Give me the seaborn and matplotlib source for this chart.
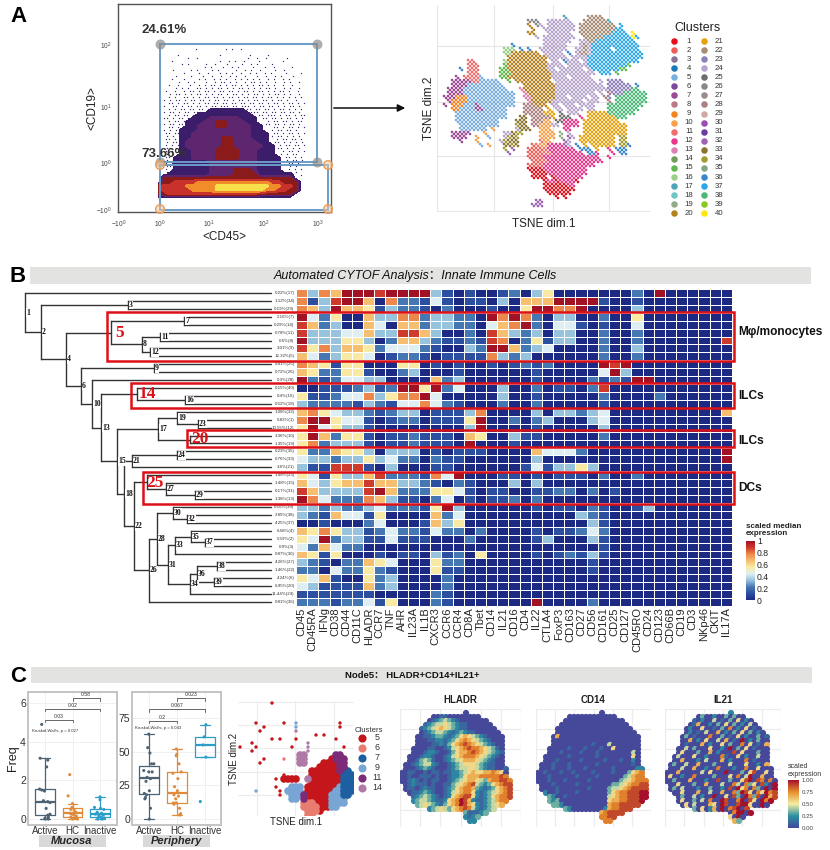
"""
Composite figure: gating plot, tSNE clusters, cluster heatmap with tree,
boxplots and marker-expression maps. Everything is read off the picture.
"""

import matplotlib
matplotlib.use("Agg")
import matplotlib.pyplot as plt
import numpy as np
import pandas as pd
import seaborn as sns
from matplotlib.colors import LinearSegmentedColormap, Normalize
from matplotlib.cm import ScalarMappable
from matplotlib.patches import Rectangle

W, H = 830, 850

# --- panel A: gating plot ---
GATE_X_TICKS = [119, 160, 209, 264, 318]
GATE_Y_TICKS = [210, 163, 107, 45]
GATE_X_LABELS = ["$\\mathregular{-10^{0}}$", "$\\mathregular{10^{0}}$", "$\\mathregular{10^{1}}$",
                 "$\\mathregular{10^{2}}$", "$\\mathregular{10^{3}}$"]
GATE_Y_LABELS = ["$\\mathregular{-10^{0}}$", "$\\mathregular{10^{0}}$", "$\\mathregular{10^{1}}$",
                 "$\\mathregular{10^{2}}$"]
DENSITY_COLORS = ["#3b1d6b", "#5f2670", "#8b1a1a", "#c8322a", "#f08c2a", "#f8e04a"]
DENSITY_ROWS = [
    "00000000000000000000000000",
    "00000000000000000000000000",
    "00000000011111100000000000",
    "00000001111111110000000000",
    "00000011122222111000000000",
    "00000111223322211000000000",
    "00000112223322221100000000",
    "00001112222222221100000000",
    "00001122222222221110000000",
    "00001122222332221110000000",
    "00001222222332222110000000",
    "00001222222332222211000000",
    "00001122223333222111000000",
    "00001122223333222111000000",
    "00011122223333222111100000",
    "00011111122222222111100000",
    "00011111122222222111100000",
    "00011111122223332111100000",
    "00111111122223333111111000",
    "03333333333333333333333000",
    "03344445555555555554433300",
    "34444555556666666665544300",
    "34444455556666666655443300",
    "33444444444444444333333000",
    "00000000000000000000000000",
]
GATE_DOTS = [
    "                                                 ",
    "           *         * *  *                      ",
    "                                                 ",
    "     *             *         *     *             ",
    "         *  *                *  *  *      *      ",
    "   *               *  * *  *    *       *        ",
    "       * *     *  *   *    *  * *    *           ",
    "              * *   *  * *    *   *  *     *      ",
    "    *     * *    * *     *  * *  *    *  *        ",
    "       *    *  *   * * *  *  * *  * *    *    *   ",
    "     *    *   *  *  *  * *  *   *  *  * *   *     ",
    "   *   *    * *  * * *  * * * * *  * *  * *       ",
    "      *  * *   *  * ** * *  * ** * *  *  * *  *   ",
    "  *  *   *  * * ** * * ** * * * ** * *  *  *     ",
    "     * * *  ** * * ** * * ** * * * ** *  * *  *  ",
    " *  *  * ** * ** * ** ** * ** * ** * * ** *  *   ",
    "   * ** * * ** * * ** * ** * * ** * * ** * *  *  ",
    "  * *  ** * * ** ** * ** * ** ** * ** * * * * *  ",
    " * * ** * ** ** * ** ** * ** * ** ** * ** *  *   ",
    "  ** * ** * * ** ** ** ** ** ** ** * ** * ** * * ",
    " *  ** * ** ** * ** *** ** *** * ** ** * * ** *  ",
    "  * * ** ** ** *** *** *** *** ** ** * ** * * *  ",
    " * ** * ** *** ** *** *** *** *** ** ** ** ** *  ",
    "  * ** ** ** ** ***  ***** ***  ** *** * ** * ** ",
    " ** * ** ** ***                   ** ** * ** * * ",
    "  * ** * ** **                     * ** ** * **  ",
    " * ** ** ** *                      ** ** * ** *  ",
    "  ** * ** **                         ** * ** * * ",
    " * * ** * *                          * ** ** *   ",
    " ** ** * **                          ** * ** * * ",
    "  * * ** *                           * ** * * *  ",
    " ** * * **                            * ** ** *  ",
    "  * ** **                             ** * * * * ",
    " * * * **                              * ** ** * ",
    "  ** * *                               ** * * *  ",
    " * * **                                 * ** * * ",
    "  * * *                                 * * **   ",
    " ** * *                                  ** * *  ",
    "  * **                                    * ** * ",
    " * * *                                    ** *   ",
    "  ** *                                     * *   ",
    " * * *                                    * * *  ",
    "  * *                                      * *   ",
    " * *                                       *  *  ",
    "  *                                        *     ",
]

# --- panel A: clusters ---
CLUSTER_COLORS = [
    "#e3101c", "#ee5e58", "#8c7196", "#1f78b8", "#78aee0", "#7b4a99", "#9b4b94", "#b87a84",
    "#f58220", "#f8a04a", "#ee7070", "#e8388c", "#e080b0", "#6b9f5b", "#60b94d", "#9ad088",
    "#4fa4b8", "#70c8c0", "#93ac88", "#b5811f", "#e5a20e", "#a88c74", "#8e80b8", "#b6a4cc",
    "#6e6e6e", "#888888", "#9a8c8c", "#ab8080", "#cfa9a4", "#9b4db0", "#6b3d9e", "#9e63b4",
    "#8a7430", "#a29c30", "#85a684", "#3a86cc", "#2ea8e8", "#4cb878", "#88c820", "#ffe610",
]
CLUSTER_CODES = "123456789abcdefghijklmnopqrstuvwxyzABCDE"
TSNE_ROWS = [
    "...............................h.....mmmm..........",
    "......................qqq..oooooo...mmmmmmh........",
    "......................k.qo.ooooooo.mmmmmmmmm.B.....",
    ".......................k..oooooooo.mmmmmmmmmBB.....",
    "......................kk...oooooo..mmmmmmmmBBBB.E..",
    "........................o.oooooooo..mmmmmBBBBBBBEB.",
    "..........................ooooooo..oommBBBBBBBBBB..",
    "..................A.......oooooo...omoBBBBBBBBBBBB.",
    "................ggg.A.A..ooooooo..oomoBBBBB.BBBBBB.",
    "................ggkkkkkkk.ooooo.A.ommoBBBBBBBBBBBBB",
    ".................kkkkkkkkkkooooo.ooooBBBBBBBBBBBBBB",
    ".......bb.......gkkkkkkkkkk.oo.Aooo.oBBBBBBBBBBBBB.",
    ".......bbb......fkkkkkkkkkkoooo.oooooBBBBBBBBBBf...",
    ".....A.bbb.....ffkkkkkkkkkkoo.oooooo.oBBBBBBBff....",
    ".......bbb.....fffkkkkkkkkkkooooooooooo.BBB.f......",
    "....7.bbbb5....ffkkkkkkkkkkkoooo.ooooo.............",
    "...77777bb55555..f.kkkkkkkkk.oooooooooo.o.nnnn.....",
    "...7777555555555.....kkkkkkkkoooooooooooo.nnnnnn.A.",
    "..777755555555555...dkkkkkkkkooooooooooooonnnnnnCC.",
    "..77775555555555555..dkkkkkkkoooooooooo.o.snnnCCCCCC",
    ".777999555555555555..ddkkkkkkooo.oooo.oo.sn.CCCCCCCC",
    "..79999555555555555...dkkkkkoooooooo.ooo..s.CCCCCCCC",
    ".7.9995557555555555..ssskkk.oo.ooo.oooo...CCCCCCCCC.",
    "...99555577555555....sssss.l.oo.oooo.oo...CCCCCCCC..",
    "....5555555555555....ssssslll.p.ooo..lllllCCCCCCC...",
    "....5555555555555...xx.sssssl.ppp..c.lllllllCCC.....",
    "....55555555555....xxx.sssaa.ppcccc.lllllllll.......",
    ".....5555555555....yxx.ssaaaoo.cccc.lllllllllll.....",
    ".....5555555.a.....oxxx..aaa...cc...lllllllllll.....",
    "...77777...a....ooxyy....aaaa.j.o...lllllllllll.....",
    "...7777..a..5...oyxy.....aaaa.j.wo.lllllllll.yy.....",
    ".....7...a.....oyxxx.....baa...wo..lllllllll.yy.....",
    "..........5.a...xxyx...2baaccccwo.A.l.llllll.yyA....",
    "................y.w...2222bccccccc.AAA.l..c.AAA.....",
    ".................w....2222bbcccccccc.AAc...c.AA.....",
    "......................2222cccccccccccccc..c.........",
    ".......................222bcccccccccccccc...........",
    "......................2222ccccccccccccc.............",
    "......................1111ccccccccccc...............",
    ".......................1111cccccccccc...............",
    ".......................1111.1ccccccc................",
    "..........................1cc1cccc1.................",
    "..........................111111cc..................",
    "..........................11111111..................",
    "...........................111111...................",
    ".............................1.1....................",
    "........................ww..........................",
    ".......................www..........................",
]

# --- panel B: heatmap, one digit per cell (tenths of the colour scale) ---
MARKERS = ["CD45", "CD45RA", "IFNg", "CD38", "CD44", "CD11C", "HLADR", "CCR7", "TNF", "AHR",
           "IL23A", "IL1B", "CXCR3", "CCR6", "CCR4", "CD8A", "Tbet", "CD14", "IL21", "CD16",
           "CD4", "IL22", "CTLA4", "FoxP3", "CD163", "CD27", "CD56", "CD161", "CD25", "CD127",
           "CD45RO", "CD24", "CD123", "CD66B", "CD19", "CD3", "NKp46", "CKIT", "IL17A"]
ROW_LABELS = ["0.22%(17)", "1.12%(34)", "0.19%(29)", "2.16%(7)", "0.29%(14)", "0.78%(11)", "0.6%(8)",
              "3.01%(9)", "12.32%(5)", "0.41%(25)", "0.72%(26)", "0.3%(28)", "0.15%(40)", "0.4%(16)",
              "0.52%(18)", "1.08%(32)", "6.83%(1)", "10.55%(12)", "3.36%(10)", "1.35%(19)",
              "0.23%(35)", "0.76%(33)", "3.6%(21)", "1.48%(23)", "1.48%(15)", "0.17%(31)",
              "1.38%(13)", "0.16%(39)", "2.85%(38)", "4.25%(37)", "6.58%(4)", "5.59%(2)", "0.9%(3)",
              "0.87%(30)", "4.26%(27)", "1.46%(22)", "4.24%(6)", "6.95%(20)", "11.44%(24)", "0.81%(36)"]
HEAT_ROWS = [
    "7376999899993101001203" + "50000000209000000",
    "7138996072214101103066" + "69999100100000000",
    "7639665132210200010059" + "97790000300000000",
    "9425006337723322097972" + "03300200500000000",
    "8623006406623322046792" + "04410100400000000",
    "8333446338863002086323" + "03300200200000000",
    "9333553026632112187025" + "13300200200000008",
    "8573665244421003299623" + "40000200300000000",
    "6423554012210111173230" + "00000200200000000",
    "7651550005501010010121" + "20000989000000000",
    "6522551002300010000001" + "00000493000000000",
    "9212443300006230000001" + "00002121990000000",
    "0011123129959240003002" + "01102800000000000",
    "5112447357794000003001" + "00000200002000000",
    "3222213214474210002002" + "00000100000000000",
    "6754332123301113700003" + "03323400000000006",
    "7995441012201115900202" + "30003400000000000",
    "5945331000000003900001" + "00000300000000000",
    "5962551011211106500311" + "00000200000000000",
    "5723331011211109000100" + "00000000000000000",
    "5226553033301011100006" + "44420000000000009",
    "4332335342202110000003" + "00000000000000009",
    "3118881030001100000014" + "13353000000000000",
    "5415336822217490001101" + "01110200200000000",
    "6435668663321021000303" + "00000000000000000",
    "8633338962225541011001" + "12202010000000000",
    "9742227631102401011202" + "00000000000000000",
    "3323223422215930000001" + "01102100130000000",
    "3216441500006240000000" + "00032100000000000",
    "0010002400016350000000" + "00003100000000000",
    "6575331242214220200001" + "01124200000000000",
    "5492331141110002000001" + "30003100000000000",
    "4264220000000000000000" + "00000100000000000",
    "6515000101103120500001" + "01213100000000000",
    "3210226540005220000000" + "00001000000000000",
    "2204225210005110000000" + "00001000000000000",
    "5461005230000200000000" + "00000000000000000",
    "4311116230000200000000" + "00000000000000000",
    "1111111000002100000000" + "00000000000000000",
    "2221224150002100000009" + "00002000000000000",
]
HEAT_COLORS = ["#1c2a84", "#2d4fa0", "#4679b2", "#97c3dc", "#dfeff2",
               "#f8eba6", "#f6be6f", "#ee8a4e", "#cf3a2c", "#a11225"]

# tree: node -> (x position, upper child, lower child); ints are nodes, "rN" heatmap rows
TREE = {
    1: (25, "r0", 2), 2: (41, 3, 4), 3: (128, "r1", "r2"), 4: (66, 5, 6), 5: (111, 7, 8),
    7: (184, "r3", "r4"), 8: (142, 11, 12), 11: (160, "r5", "r6"), 12: (150, "r7", "r8"),
    6: (81, 9, 10), 9: (154, "r9", "r10"), 10: (92, "r11", 13), 13: (101, 14, 15),
    14: (137, "r12", 16), 16: (185, "r13", "r14"), 15: (117, 17, 18), 17: (158, 19, 20),
    19: (177, "r15", 23), 23: (198, "r16", "r17"), 20: (190, "r18", "r19"), 18: (124, 21, 22),
    21: (132, 24, "r22"), 24: (177, "r20", "r21"), 22: (134, 25, 26), 25: (147, "r23", 27),
    27: (166, "r24", 29), 29: (195, "r25", "r26"), 26: (149, 28, "r39"), 28: (157, 30, 31),
    30: (173, "r27", 32), 32: (187, "r28", "r29"), 31: (168, 33, 34), 33: (175, 35, "r33"),
    35: (191, "r30", 37), 37: (205, "r31", "r32"), 34: (190, 36, "r38"), 36: (197, 38, 39),
    38: (217, "r34", "r35"), 39: (214, "r36", "r37"),
}
RED_NODES = [5, 14, 20, 25]
RED_BOXES = [("5", 107, 312, 361, 120, 333), ("14", 131, 383, 408, 147, 394),
             ("20", 187, 430, 447, 200, 439), ("25", 143, 472, 504, 155, 483)]
SIDE_LABELS = [("Mφ/monocytes", 332), ("ILCs", 396), ("ILCs", 441), ("DCs", 488)]

# --- panel C: boxplots ---
GROUPS = ["Active", "HC", "Inactive"]
GROUP_COLORS = ["#4d6272", "#e08a3c", "#2c9cc8"]
MUCOSA_VALUES = [
    [4.9, 3.15, 3.05, 2.7, 1.55, 1.5, 1.45, 0.95, 0.9, 0.85, 0.55, 0.25, 0.2, 0.1, 0.05, 0, 0],
    [2.3, 1.2, 0.8, 0.6, 0.5, 0.45, 0.35, 0.3, 0.25, 0.2, 0.15, 0.1, 0.05, 0, 0],
    [1.15, 1.0, 0.6, 0.55, 0.5, 0.35, 0.3, 0.25, 0.2, 0.15, 0.1, 0.05, 0, 0],
]
MUCOSA_JITTER = [
    [-0.12, -0.18, 0.1, 0.06, -0.2, -0.12, -0.02, -0.06, 0.1, 0.18, 0.04, 0.18, 0.1, 0.12, 0, 0.12, 0],
    [-0.1, -0.16, 0, -0.02, -0.06, 0.06, 0.12, -0.1, -0.02, 0.06, 0.14, -0.06, 0.1, 0, 0.18],
    [0, 0, -0.2, 0.02, 0.14, -0.1, 0.06, -0.16, 0.12, -0.04, 0.04, 0.16, -0.08, 0.08],
]
PERIPHERY_VALUES = [
    [63, 53, 49, 41, 41, 36, 35, 35, 31, 30, 28, 21, 19, 18, 16, 15, 8, 0],
    [52, 48, 47, 41, 35, 34, 30, 24, 21, 18, 17, 15, 12, 12, 11, 8, 4, 3],
    [70, 61, 55, 46, 13],
]
PERIPHERY_JITTER = [
    [0, -0.04, 0.04, 0.1, 0.18, -0.18, 0, 0.12, -0.06, 0.06, -0.1, 0.02, -0.16, -0.08, -0.12, -0.14, 0.06, 0.02],
    [-0.02, 0, -0.02, 0.08, 0.16, -0.14, 0.04, -0.08, 0.02, -0.1, 0.06, -0.04, -0.12, -0.02, -0.1, 0.1, 0.14, 0.1],
    [0.04, -0.02, -0.06, 0.04, -0.16],
]
# (first group, second group, height, p text)
MUCOSA_BRACKETS = [(0, 1, 5.14, "0.03"), (0, 2, 5.71, "0.02"), (1, 2, 6.26, "0.58")]
PERIPHERY_BRACKETS = [(0, 1, 73, "0.2"), (0, 2, 81.5, "0.067"), (1, 2, 89.5, "0.023")]

# --- panel C: cluster map of node 5 ---
NODE_CODES = {"5": "#c5161c", "6": "#e87c6e", "7": "#1d5fa0", "9": "#78a5d4", "b": "#7b2b77", "e": "#b07aa6"}
NODE_LEGEND = [("5", "5"), ("6", "6"), ("7", "7"), ("9", "9"), ("b", "11"), ("e", "14")]
NODE_ROWS = [
    "........5....................",
    ".............................",
    ".............................",
    ".............................",
    ".............................",
    "....5......5..9..........5...",
    "......5.......9..........5...",
    ".....5........e..............",
    "...................5.5.......",
    "........5.5...5.........5....",
    "...5.............e...........",
    "5...5........5...e........5..",
    "...5.............e...........",
    "...............ee.......bb...",
    "......5....6...ee......5bbb..",
    ".....5.........ee....5555bb..",
    "....................55555bb..",
    "..................5555555b77.",
    "...........5......55555555777",
    ".........5.5555..e55555555777",
    "..................55555555777",
    ".........5...999.555555559777",
    "....9.....5.9999.555555599777",
    "..........5..999b55555599977.",
    ".............99.b5555559999..",
    "................66655559999..",
    "................666655599....",
    ".................6665........",
    ".................66..........",
]

# --- panel C: expression maps, one digit per dot ---
MAP_TITLES = ["HLADR", "CD14", "IL21"]
HLADR_ROWS = [
    "................0",
    "........001100000000",
    ".......012343210000000",
    "......12344543211000000",
    ".....1234565432110000000",
    ".....01234432123211000000",
    "....0011233212356543210000",
    "....0001122123567654321000",
    "....0000112135678765432100",
    "...00001100124567877654310",
    "...00012210013566787654321",
    "..000122100124567776543210",
    "..001343100123456665432100",
    ".0012344210012345554321100",
    ".00012321000123445543211001",
    "001100101101122345655667650",
    "001001110100122356667777787",
    "0012101011001234566543677887",
    ".012111010011345678432356788",
    ".011012110012356776321235678",
    "..01123210012456775212345678",
    "...1234321012567885212356778",
    "...234432112567986211234677",
    "....3454321356798652123456",
    ".......23454356787421234",
    "................311123",
    "................2123",
    ".................22",
]
CD14_ROWS = [
    "................0",
    "........000000000000",
    ".......000000000000000",
    "......00000000000000000",
    ".....0000000000000000000",
    ".....00000000000000000000",
    "....0600000000000000000000",
    "....0000000000000000000000",
    "....0000000000100040000000",
    "...00000100010001005000000",
    "...00010000100010000000040",
    "..000000100000010000000050",
    "..000100000100000100010020",
    ".0001000100000010000000010",
    ".00010001000100000010000022",
    "001000100100001000010003567",
    "000100000010000100000034677",
    "0001000100000100000003456777",
    ".000100000100000000334567788",
    ".000010000000100003445678888",
    "..20010000100000003567788899",
    "...3200100000000004567788899",
    "...323000000000000566778889",
    "....3320000000000067788888",
    ".......32000000002677888",
    "................678888",
    "................7788",
    ".................77",
]
IL21_ROWS = [
    "................2",
    "........030020030300",
    ".......102004010305020",
    "......01600203050302040",
    ".....0200500103070205010",
    ".....02010400602030503020",
    "....0301000700301050200301",
    "....0060205004060109020300",
    "....0100060200503007050106",
    "...00403000500209030501000",
    "...05000300602000805000300",
    "..040005002000710050200400",
    "..006000204000602000701000",
    ".0300400600030004000500206",
    ".00040060020070002007005000",
    "000600000405000900030580050",
    "050020070000300050704900600",
    "0030006000200800300589087070",
    ".005000300600040074073508209",
    ".030400020030020809570730909",
    "..00500060040060073985075978",
    "...0300402009005083097380968",
    "...050030407009800790850979",
    "....0504000650980089950090",
    ".......30502609078908",
    "................079909",
    "................5090",
    ".................63",
]
EXPR_COLORS = ["#46489a", "#2a8fa2", "#f4eda4", "#e8902c", "#a5102a"]
EXPR_TICKS = [0, 0.25, 0.5, 0.75, 1]
HEAT_TICKS = [0, 0.2, 0.4, 0.6, 0.8, 1]


def axes_px(fig, x0, y0, x1, y1, **kwargs):
    return fig.add_axes([x0 / W, 1 - y1 / H, (x1 - x0) / W, (y1 - y0) / H], **kwargs)


def grid_points(rows, x0, y0, dx, dy, blank="."):
    xs, ys, codes = [], [], []
    for j, row in enumerate(rows):
        for i, c in enumerate(row):
            if c != blank:
                xs.append(x0 + dx * i)
                ys.append(y0 + dy * j)
                codes.append(c)
    return pd.DataFrame({"x": xs, "y": ys, "code": codes})


def plot_gate(fig):
    ax = axes_px(fig, 118, 4, 331, 212)
    dots = grid_points(GATE_DOTS, 161, 46, 3, 3, blank=" ")
    # brick offset so the dots do not line up in columns
    dots["x"] = dots["x"] + ((dots["y"] - 46) / 3 % 2) * 1.5
    sns.scatterplot(data=dots, x="x", y="y", color="#3b2a6b", s=0.9, linewidth=0, ax=ax)
    gx = 158 + 6 * np.arange(len(DENSITY_ROWS[0]))
    gy = 102 + 4 * np.arange(len(DENSITY_ROWS))
    levels = np.array([[int(c) for c in row] for row in DENSITY_ROWS], dtype=float)
    ax.contourf(gx, gy, levels, levels=[0.5, 1.5, 2.5, 3.5, 4.5, 5.5, 6.5], colors=DENSITY_COLORS, zorder=3)
    ax.set_xlim(118, 331)
    ax.set_ylim(212, 4)
    ax.set_xticks(GATE_X_TICKS, GATE_X_LABELS)
    ax.set_yticks(GATE_Y_TICKS, GATE_Y_LABELS)
    ax.tick_params(labelsize=4.8, length=3, width=0.6, pad=1.5, colors="#444444")
    ax.set_xticks([175, 186, 194, 200, 205, 225, 237, 245, 252, 258, 280, 292, 300, 307, 313], minor=True)
    ax.set_yticks([89, 78, 70, 64, 59, 55, 51, 48, 145, 135, 127, 122, 118, 115, 111, 109, 40, 36, 30, 24, 18, 14, 10], minor=True)
    ax.tick_params(which="minor", length=1.6, width=0.4, color="#444444")
    ax.set_xlabel("<CD45>", fontsize=8.5, labelpad=1, color="#222222")
    ax.set_ylabel("<CD19>", fontsize=8.5, labelpad=-2, color="#222222")
    for s in ax.spines.values():
        s.set_color("#555555")
        s.set_linewidth(1)


def plot_tsne(fig):
    ax = axes_px(fig, 437, 5, 650, 212)
    pts = grid_points(TSNE_ROWS, 440, 16, 4, 4)
    # one extra dot per cell on the half step, the cloud is finer than the grid
    half = pts.assign(x=pts["x"] + 2, y=pts["y"] + 2)
    pts = pd.concat([pts, half], ignore_index=True)
    pts["cluster"] = pts["code"].map(lambda c: CLUSTER_CODES.index(c))
    palette = dict(enumerate(CLUSTER_COLORS))
    sns.scatterplot(data=pts, x="x", y="y", hue="cluster", palette=palette, s=3.5, linewidth=0,
                    legend=False, ax=ax, zorder=3)
    ax.set_xlim(437, 650)
    ax.set_ylim(212, 5)
    ax.set_xticks([437, 494, 553, 609], [])
    ax.set_yticks([46, 102, 156, 211], [])
    ax.tick_params(length=0)
    ax.grid(color="#e6e6e6", linewidth=0.8)
    sns.despine(ax=ax, left=True, bottom=True)
    ax.set_xlabel("TSNE dim.1", fontsize=8.5, labelpad=1, color="#222222")
    ax.set_ylabel("TSNE dim.2", fontsize=8.5, labelpad=-2, color="#222222")


def plot_heatmap(fig):
    ax = axes_px(fig, 296, 289, 732, 606)
    values = np.array([[int(c) / 9 for c in row] for row in HEAT_ROWS])
    table = pd.DataFrame(values, index=ROW_LABELS, columns=MARKERS)
    cmap = LinearSegmentedColormap.from_list("heat", HEAT_COLORS)
    sns.heatmap(table, cmap=cmap, vmin=0, vmax=1, cbar=False, linewidths=0.7, linecolor="white",
                xticklabels=True, yticklabels=True, ax=ax)
    ax.tick_params(axis="x", labelsize=8, rotation=90, length=0, pad=1)
    ax.tick_params(axis="y", labelsize=3.2, rotation=0, length=0, pad=1, colors="#333333")
    cax = axes_px(fig, 746, 541, 755, 600)
    bar = fig.colorbar(ScalarMappable(Normalize(0, 1), cmap), cax=cax, ticks=HEAT_TICKS)
    bar.ax.set_yticklabels(["0", "0.2", "0.4", "0.6", "0.8", "1"])
    bar.ax.tick_params(labelsize=6.2, length=0, pad=1.5, colors="#222222")
    bar.outline.set_visible(False)


def draw_tree(ov):
    def node_y(key):
        if isinstance(key, str):
            return 293 + 7.92 * int(key[1:])
        _, a, b = TREE[key]
        return (node_y(a) + node_y(b)) / 2

    def node_x(key):
        return 271 if isinstance(key, str) else TREE[key][0]

    for key, (x, a, b) in TREE.items():
        ya, yb = node_y(a), node_y(b)
        ov.plot([x, x], [ya, yb], color="#333333", lw=1, solid_capstyle="projecting")
        ov.plot([x, node_x(a)], [ya, ya], color="#333333", lw=1)
        ov.plot([x, node_x(b)], [yb, yb], color="#333333", lw=1)
        if key in RED_NODES:  # these carry the big red number instead
            continue
        ov.text(x + 1, (ya + yb) / 2, str(key), fontsize=5.6, fontweight="bold", family="Liberation Serif",
                ha="left", va="center", color="#111111",
                bbox=dict(facecolor="white", edgecolor="none", pad=0.2))


def draw_overlay(ov):
    # section bars and panel letters
    ov.add_patch(Rectangle((30, 267), 781, 17, color="#e3e3e1", lw=0))
    ov.add_patch(Rectangle((31, 667), 781, 16, color="#e3e3e1", lw=0))
    ov.text(415, 275.5, "Automated CYTOF Analysis：Innate Immune Cells", fontsize=9, style="italic",
            ha="center", va="center", color="#111111")
    ov.text(412, 675.5, "Node5： HLADR+CD14+IL21+", fontsize=6.8, fontweight="bold",
            ha="center", va="center", color="#111111")
    for letter, x, y in [("A", 18, 16), ("B", 18, 276), ("C", 18, 676)]:
        ov.text(x, y, letter, fontsize=16, fontweight="bold", ha="center", va="center", color="black")

    # gates
    ov.add_patch(Rectangle((160, 44), 157, 118, fill=False, ec="#6a9cc8", lw=1.4))
    ov.add_patch(Rectangle((160, 165), 168, 45, fill=False, ec="#6a9cc8", lw=1.4))
    for x, y in [(160, 44), (317, 44), (160, 162), (317, 162)]:
        ov.scatter([x], [y], s=52, color="#8c8c8c", alpha=0.7, lw=0)
    for x, y in [(160, 165), (328, 165), (160, 209), (328, 209)]:
        ov.scatter([x], [y], s=38, facecolor="#f4c9a0", alpha=0.55, lw=0)
        ov.scatter([x], [y], s=38, facecolor="none", edgecolor="#ec9a55", lw=1)
    ov.text(141, 30, "24.61%", fontsize=9.5, fontweight="bold", va="center", color="#333333")
    ov.text(141, 154, "73.66%", fontsize=9.5, fontweight="bold", va="center", color="#333333")
    ov.annotate("", xy=(408, 108), xytext=(331, 108),
                arrowprops=dict(arrowstyle="-|>", color="#111111", lw=1.1, mutation_scale=11))

    # cluster legend
    ov.text(697, 28, "Clusters", fontsize=9, ha="center", va="center", color="#222222")
    for k, color in enumerate(CLUSTER_COLORS):
        col, row = k // 20, k % 20
        y = 41 + 9.07 * row
        ov.scatter([674 + 29.5 * col], [y], s=22, color=color, lw=0)
        ov.text(689 + 29.7 * col, y, str(k + 1), fontsize=5.6, ha="center", va="center", color="#333333")

    # red boxes and their numbers
    for label, x0, y0, y1, tx, ty in RED_BOXES:
        ov.add_patch(Rectangle((x0, y0), 734 - x0, y1 - y0, fill=False, ec="#dd1016", lw=1.8, zorder=6))
        ov.text(tx, ty, label, fontsize=12.5, color="#dd1016", fontweight="bold", family="Liberation Serif",
                ha="center", va="center", zorder=7)
    for text, y in SIDE_LABELS:
        ov.text(738, y, text, fontsize=8.6, fontweight="bold", va="center", color="#111111")
    ov.text(746, 530, "scaled median\nexpression", fontsize=5.8, fontweight="bold", va="center",
            linespacing=1.05, color="#222222")

    # panel C bottom tags and legends
    ov.add_patch(Rectangle((39, 835), 67, 12, color="#d9d9d9", lw=0))
    ov.add_patch(Rectangle((143, 835), 67, 12, color="#d9d9d9", lw=0))
    ov.text(72, 841, "Mucosa", fontsize=8, fontweight="bold", style="italic", ha="center", va="center")
    ov.text(177, 841, "Periphery", fontsize=8, fontweight="bold", style="italic", ha="center", va="center")
    ov.text(369, 731, "Clusters", fontsize=5.6, ha="center", va="center", color="#333333")
    for k, (code, label) in enumerate(NODE_LEGEND):
        y = 738 + 10 * k
        ov.scatter([362], [y], s=34, color=NODE_CODES[code], lw=0)
        ov.text(377, y, label, fontsize=6.4, ha="center", va="center", color="#333333")
    ov.text(788, 770.5, "scaled\nexpression", fontsize=5, va="center", linespacing=1, color="#333333")


def plot_box(fig, box, values, jitter, brackets, xlim, ylim, yticks, kw_text, kw_xy, ylabel=None):
    ax = axes_px(fig, *box)
    df = pd.DataFrame([(GROUPS[g], v) for g, vals in enumerate(values) for v in vals], columns=["group", "value"])
    sns.boxplot(data=df, x="group", y="value", hue="group", order=GROUPS, hue_order=GROUPS,
                palette=GROUP_COLORS, fill=False, width=0.72, linewidth=0.9, fliersize=0, legend=False, ax=ax,
                medianprops=dict(linewidth=1.6))
    pts = pd.DataFrame([(g + j, v, GROUPS[g]) for g, vals in enumerate(values)
                        for v, j in zip(vals, jitter[g])], columns=["x", "value", "group"])
    sns.scatterplot(data=pts, x="x", y="value", hue="group", palette=dict(zip(GROUPS, GROUP_COLORS)),
                    s=5, linewidth=0, legend=False, ax=ax, zorder=4)
    tick = (ylim[1] - ylim[0]) * 0.018
    for a, b, h, label in brackets:
        ax.plot([a, a, b, b], [h - tick, h, h, h - tick], color="#666666", lw=0.7)
        ax.text((a + b) / 2, h + tick * 0.5, label, fontsize=3.7, ha="center", va="bottom", color="#333333")
    ax.text(kw_xy[0], kw_xy[1], kw_text, fontsize=3.1, va="center", color="#333333")
    ax.set_xlim(*xlim)
    ax.set_ylim(*ylim)
    ax.set_yticks(yticks)
    ax.set_xlabel("")
    ax.set_ylabel(ylabel if ylabel else "", fontsize=9, labelpad=1, color="#222222")
    ax.tick_params(axis="x", labelsize=7, length=0, pad=1, colors="#333333")
    ax.tick_params(axis="y", labelsize=7.5, length=0, pad=1.5, colors="#333333")
    ax.grid(color="#eeeeee", linewidth=0.6)
    ax.set_axisbelow(True)
    for s in ax.spines.values():
        s.set_color("#c4c4c4")
        s.set_linewidth(1.4)


def plot_node_map(fig):
    ax = axes_px(fig, 238, 701, 354, 816)
    pts = grid_points(NODE_ROWS, 240, 703, 4, 4)
    pts["count"] = pts.groupby("code")["x"].transform("size")
    # the crowded red blob has to sit under the smaller clusters
    pts = pts.sort_values("count", ascending=False, kind="stable")
    cells = set(zip(pts["x"], pts["y"]))
    crowded = [((x + 4, y) in cells) or ((x - 4, y) in cells) for x, y in zip(pts["x"], pts["y"])]
    dense = pts[crowded]
    sparse = pts[[not c for c in crowded]]
    sns.scatterplot(data=sparse, x="x", y="y", hue="code", palette=NODE_CODES, s=6, linewidth=0,
                    legend=False, ax=ax, zorder=3)
    sns.scatterplot(data=dense, x="x", y="y", hue="code", palette=NODE_CODES, s=30, linewidth=0,
                    legend=False, ax=ax, zorder=3)
    ax.set_xlim(238, 354)
    ax.set_ylim(816, 701)
    ax.set_xticks([257, 295, 334], [])
    ax.set_yticks([702, 725, 748, 772, 795], [])
    ax.tick_params(length=0)
    ax.grid(color="#ececec", linewidth=0.8)
    sns.despine(ax=ax, left=True, bottom=True)
    ax.set_xlabel("TSNE dim.1", fontsize=7, labelpad=-3, color="#222222")
    ax.set_ylabel("TSNE dim.2", fontsize=7, labelpad=-4.5, color="#222222")


def plot_expression(fig, left, right, title, rows, cmap):
    ax = axes_px(fig, left, 709, right, 827)
    pts = grid_points(rows, left + 2, 713, 4, 4)
    pts["value"] = pts["code"].astype(int) / 9
    sns.scatterplot(data=pts, x="x", y="y", hue="value", palette=cmap, hue_norm=(0, 1), s=20,
                    linewidth=0, legend=False, ax=ax, zorder=3)
    ax.set_xlim(left, right)
    ax.set_ylim(827, 709)
    step = (right - left) / 6
    ax.set_xticks([left + step * k for k in range(7)], [])
    ax.set_yticks([709, 729, 749, 769, 790, 810], [])
    ax.tick_params(length=0)
    ax.grid(color="#ececec", linewidth=0.9)
    sns.despine(ax=ax, left=True, bottom=True)
    ax.set_xlabel("")
    ax.set_ylabel("")
    ax.set_title(title, fontsize=7, fontweight="bold", pad=4, color="#222222")


def main():
    sns.set_theme(style="white")
    plt.rcParams["font.family"] = ["Liberation Sans", "Noto Sans CJK SC", "DejaVu Sans"]
    plt.rcParams["mathtext.fontset"] = "custom"
    plt.rcParams["mathtext.rm"] = "Liberation Sans"

    fig = plt.figure(figsize=(W / 100, H / 100), dpi=100, facecolor="white")
    plot_gate(fig)
    plot_tsne(fig)
    plot_heatmap(fig)
    plot_box(fig, (28, 692, 117, 825), MUCOSA_VALUES, MUCOSA_JITTER, MUCOSA_BRACKETS, (-0.62, 2.62), (-0.31, 6.58),
             [0, 2, 4, 6], "Kruskal-Wallis, p = 0.027", (-0.48, 4.58), ylabel="Freq")
    plot_box(fig, (132, 692, 221, 825), PERIPHERY_VALUES, PERIPHERY_JITTER, PERIPHERY_BRACKETS, (-0.6, 2.58), (-4.4, 94.3),
             [0, 25, 50, 75], "Kruskal-Wallis, p = 0.043", (-0.48, 67.5))
    plot_node_map(fig)
    expr_cmap = LinearSegmentedColormap.from_list("expr", EXPR_COLORS)
    plot_expression(fig, 400, 521, MAP_TITLES[0], HLADR_ROWS, expr_cmap)
    plot_expression(fig, 536, 651, MAP_TITLES[1], CD14_ROWS, expr_cmap)
    plot_expression(fig, 665, 781, MAP_TITLES[2], IL21_ROWS, expr_cmap)

    cax = axes_px(fig, 788, 780, 799, 828)
    bar = fig.colorbar(ScalarMappable(Normalize(0, 1), expr_cmap), cax=cax, ticks=EXPR_TICKS)
    bar.ax.set_yticklabels(["0.00", "0.25", "0.50", "0.75", "1.00"])
    bar.ax.tick_params(labelsize=4.4, length=0, pad=2, colors="#444444")
    bar.outline.set_visible(False)

    ov = fig.add_axes([0, 0, 1, 1], zorder=10, facecolor="none")
    ov.set_xlim(0, W)
    ov.set_ylim(H, 0)
    ov.axis("off")
    draw_tree(ov)
    draw_overlay(ov)

    fig.savefig("out.png", dpi=100, facecolor="white")
    plt.close(fig)


if __name__ == "__main__":
    main()
